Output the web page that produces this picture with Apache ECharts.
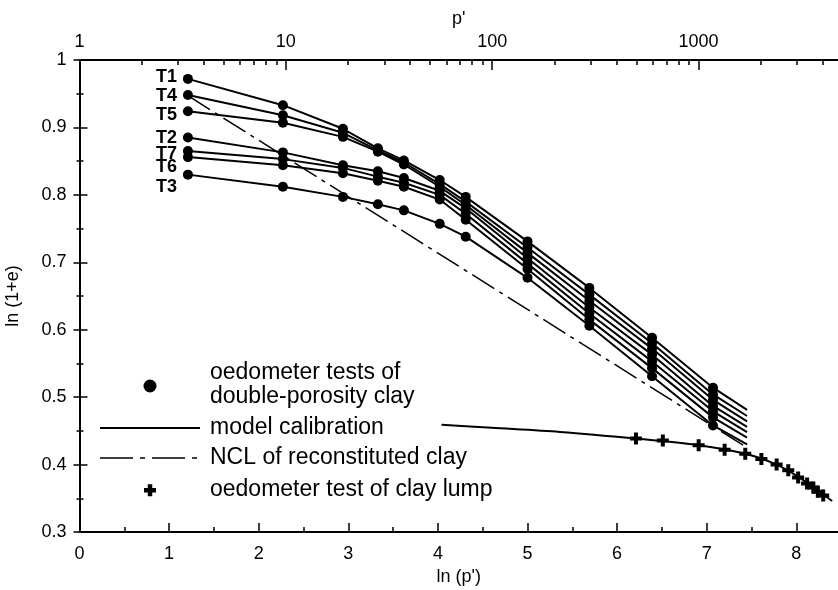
<!DOCTYPE html>
<html>
<head>
<meta charset="utf-8">
<script src="https://cdn.jsdelivr.net/npm/echarts@6/dist/echarts.min.js"></script>
<style>html,body{margin:0;padding:0;background:#fff;}#c{width:838px;height:590px;}</style>
</head>
<body>
<div id="c"></div>
<script>
// ---------- data ----------
const testNames = ['T1', 'T4', 'T5', 'T2', 'T7', 'T6', 'T3'];
// ln(p') of the loading steps
const lnP = [1.21, 2.27, 2.94, 3.33, 3.62, 4.02, 4.31, 5.00, 5.69, 6.39, 7.07];
// ln(1+e) measured, per test
const T1 = [0.972, 0.933, 0.898, 0.869, 0.851, 0.822, 0.797, 0.731, 0.662, 0.588, 0.514];
const T4 = [0.948, 0.918, 0.892, 0.866, 0.848, 0.816, 0.790, 0.722, 0.652, 0.580, 0.504];
const T5 = [0.924, 0.907, 0.886, 0.864, 0.845, 0.812, 0.785, 0.714, 0.643, 0.572, 0.496];
const T2 = [0.885, 0.863, 0.844, 0.835, 0.825, 0.806, 0.780, 0.706, 0.633, 0.563, 0.487];
const T7 = [0.865, 0.853, 0.840, 0.827, 0.818, 0.800, 0.772, 0.698, 0.624, 0.553, 0.479];
const T6 = [0.856, 0.844, 0.832, 0.821, 0.812, 0.793, 0.763, 0.690, 0.615, 0.543, 0.470];
const T3 = [0.830, 0.812, 0.797, 0.786, 0.777, 0.757, 0.738, 0.677, 0.606, 0.531, 0.458];
// model calibration: end point of each curve (same order as testNames)
const modelEndX = 7.45;
const modelEndY = [0.481, 0.472, 0.464, 0.456, 0.448, 0.440, 0.430];
// NCL of reconstituted clay (straight line)
const nclX = [1.21, 7.45];
const nclY = [0.947, 0.425];
// oedometer test of clay lump
const lumpX = [6.21, 6.51, 6.91, 7.20, 7.43, 7.61, 7.78, 7.91, 8.02, 8.12, 8.19, 8.24, 8.30];
const lumpY = [0.4385, 0.4356, 0.4286, 0.422, 0.416, 0.4084, 0.400, 0.3916, 0.381, 0.372, 0.366, 0.3597, 0.354];
// model curve for clay lump
const lumpModelX = [4.04, 4.60, 5.36, 6.21, 6.91, 7.43, 7.78, 8.02, 8.24, 8.40];
const lumpModelY = [0.459, 0.4545, 0.4484, 0.4385, 0.4286, 0.416, 0.400, 0.382, 0.361, 0.346];
// axis ticks
const bottomTicks = [0, 1, 2, 3, 4, 5, 6, 7, 8];
const bottomMinor = [0.5, 1.5, 2.5, 3.5, 4.5, 5.5, 6.5, 7.5];
const topLabels = [1, 10, 100, 1000];
const topMinor = [2,3,4,5,6,7,8,9,20,30,40,50,60,70,80,90,200,300,400,500,600,700,800,900,2000,3000,4000];
const legendTexts = ['oedometer tests of', 'double-porosity clay', 'model calibration', 'NCL of reconstituted clay', 'oedometer test of clay lump'];

// ---------- styling ----------
const FONT = '"Liberation Sans", Arial, Helvetica, sans-serif';
const XMAX = 8.465;
const testValues = [T1, T4, T5, T2, T7, T6, T3];
const labelShift = [-2, 1, 4, 0, 3, 10, 12];
const plusPath = 'path://M4,0h4v4h4v4h-4v4h-4v-4h-4v-4h4z';

const series = [];
testNames.forEach((name, i) => {
  const ys = testValues[i];
  const model = lnP.map((x, k) => [x, ys[k]]);
  model.push([modelEndX, modelEndY[i]]);
  series.push({
    type: 'line', name: name + ' model', data: model, smooth: false,
    showSymbol: false, symbol: 'none', lineStyle: {color: '#000', width: 2}, z: 2, silent: true
  });
  series.push({
    type: 'scatter', name: name,
    data: lnP.map((x, k) => k === 0 ? {
      value: [x, ys[k]],
      label: {show: true, position: 'left', distance: 6, formatter: name, offset: [0, labelShift[i]],
              fontSize: 18, fontWeight: 'bold', color: '#000', fontFamily: FONT}
    } : [x, ys[k]]),
    symbol: 'circle', symbolSize: 10, itemStyle: {color: '#000', opacity: 1}, z: 3, silent: true
  });
});
series.push({
  type: 'line', name: 'NCL', data: nclX.map((x, k) => [x, nclY[k]]), showSymbol: false, symbol: 'none',
  lineStyle: {color: '#000', width: 1.5, type: [26, 6, 4, 6]}, z: 2, silent: true
});
series.push({
  type: 'line', name: 'lump model', data: lumpModelX.map((x, k) => [x, lumpModelY[k]]), smooth: 0.3,
  showSymbol: false, symbol: 'none', lineStyle: {color: '#000', width: 2}, z: 2, silent: true
});
series.push({
  type: 'scatter', name: 'lump', data: lumpX.map((x, k) => [x, lumpY[k]]),
  symbol: plusPath, symbolSize: 12, itemStyle: {color: '#000', opacity: 1}, z: 3, silent: true
});

const axisLineStyle = {color: '#000', width: 2};
const tickStyle = {color: '#000', width: 1.5};
const labelStyle = {color: '#000', fontSize: 18, fontFamily: FONT};

const option = {
  animation: false,
  backgroundColor: '#fff',
  grid: {left: 79.5, right: 0, top: 60, bottom: 58, outerBoundsMode: 'none'},
  xAxis: [
    {
      type: 'value', position: 'bottom', min: 0, max: XMAX,
      axisLine: {lineStyle: axisLineStyle},
      axisTick: {inside: true, length: 9, customValues: bottomTicks, lineStyle: tickStyle},
      axisLabel: Object.assign({customValues: bottomTicks, margin: 13}, labelStyle),
      splitLine: {show: false},
      name: "ln (p')", nameLocation: 'middle', nameGap: 35,
      nameTextStyle: labelStyle
    },
    {
      type: 'value', position: 'bottom', min: 0, max: XMAX, offset: 0,
      axisLine: {show: false},
      axisTick: {inside: true, length: 5, customValues: bottomMinor, lineStyle: tickStyle},
      axisLabel: {show: false}, splitLine: {show: false}
    },
    {
      type: 'value', position: 'top', min: 0, max: XMAX,
      axisLine: {lineStyle: axisLineStyle},
      axisTick: {inside: true, length: 10, customValues: topLabels.map(v => Math.log(v)), lineStyle: tickStyle},
      axisLabel: Object.assign({customValues: topLabels.map(v => Math.log(v)), margin: 9,
        formatter: v => String(Math.round(Math.exp(v)))}, labelStyle),
      splitLine: {show: false},
      name: "p'", nameLocation: 'middle', nameGap: 27, nameTextStyle: labelStyle
    },
    {
      type: 'value', position: 'top', min: 0, max: XMAX, offset: 0,
      axisLine: {show: false},
      axisTick: {inside: true, length: 5, customValues: topMinor.map(v => Math.log(v)), lineStyle: tickStyle},
      axisLabel: {show: false}, splitLine: {show: false}
    }
  ],
  yAxis: [
    {
      type: 'value', position: 'left', min: 0.3, max: 1, interval: 0.1,
      axisLine: {lineStyle: axisLineStyle},
      axisTick: {inside: true, length: 8, lineStyle: tickStyle},
      minorTick: {show: true, splitNumber: 2, length: 4, lineStyle: tickStyle},
      axisLabel: Object.assign({margin: 13}, labelStyle),
      splitLine: {show: false}, minorSplitLine: {show: false},
      name: 'ln (1+e)', nameLocation: 'middle', nameGap: 57, nameRotate: 90,
      nameTextStyle: labelStyle
    },
    {
      type: 'value', position: 'right', min: 0.3, max: 1, interval: 0.1,
      axisLine: {show: false},
      axisTick: {show: true, inside: true, length: 6, lineStyle: tickStyle},
      minorTick: {show: true, splitNumber: 2, length: 3, lineStyle: tickStyle},
      axisLabel: {show: false}, splitLine: {show: false}
    }
  ],
  graphic: [
    {type: 'circle', shape: {cx: 150, cy: 386, r: 6.5}, style: {fill: '#000'}},
    {type: 'text', x: 210, y: 373, style: {text: legendTexts[0], font: '23px ' + FONT, fill: '#000', verticalAlign: 'middle'}},
    {type: 'text', x: 210, y: 397, style: {text: legendTexts[1], font: '23px ' + FONT, fill: '#000', verticalAlign: 'middle'}},
    {type: 'line', shape: {x1: 100, y1: 428, x2: 200, y2: 428}, style: {stroke: '#000', lineWidth: 2}},
    {type: 'text', x: 210, y: 428, style: {text: legendTexts[2], font: '23px ' + FONT, fill: '#000', verticalAlign: 'middle'}},
    {type: 'line', shape: {x1: 100, y1: 458, x2: 198, y2: 458}, style: {stroke: '#000', lineWidth: 1.5, lineDash: [33, 7, 5, 7]}},
    {type: 'text', x: 210, y: 458, style: {text: legendTexts[3], font: '23px ' + FONT, fill: '#000', verticalAlign: 'middle'}},
    {type: 'rect', shape: {x: 144, y: 488, width: 12, height: 4.5}, style: {fill: '#000'}},
    {type: 'rect', shape: {x: 147.75, y: 484.25, width: 4.5, height: 12}, style: {fill: '#000'}},
    {type: 'text', x: 210, y: 490, style: {text: legendTexts[4], font: '23px ' + FONT, fill: '#000', verticalAlign: 'middle'}}
  ],
  series: series
};

const chart = echarts.init(document.getElementById('c'), null, {renderer: 'canvas'});
chart.setOption(option);
</script>
</body>
</html>
